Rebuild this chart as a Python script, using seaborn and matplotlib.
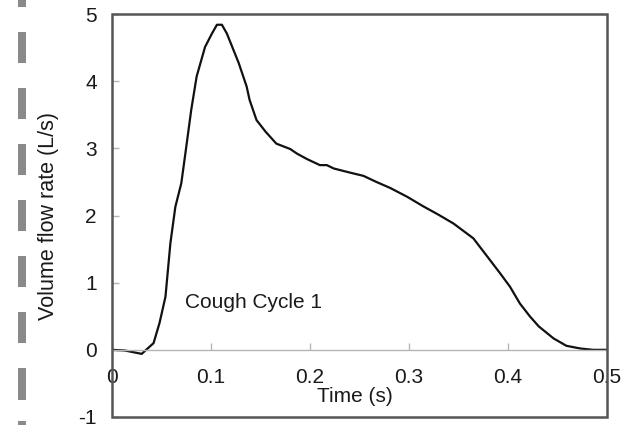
import matplotlib
matplotlib.use("Agg")
import matplotlib.pyplot as plt
from matplotlib.patches import Rectangle
import seaborn as sns
import pandas as pd

# ---- data ----
time_s = [0, 0.013, 0.030, 0.042, 0.048, 0.054, 0.059, 0.064, 0.070, 0.075,
          0.080, 0.0855, 0.094, 0.101, 0.106, 0.111, 0.116, 0.128, 0.136, 0.139,
          0.146, 0.155, 0.166, 0.180, 0.187, 0.197, 0.210, 0.217, 0.224, 0.240,
          0.254, 0.267, 0.281, 0.298, 0.314, 0.330, 0.345, 0.365, 0.378, 0.392,
          0.402, 0.412, 0.422, 0.431, 0.446, 0.459, 0.473, 0.486, 0.500]
flow_Ls = [0, -0.01, -0.06, 0.10, 0.40, 0.79, 1.59, 2.13, 2.48, 3.02,
           3.57, 4.07, 4.51, 4.71, 4.84, 4.84, 4.71, 4.27, 3.92, 3.72,
           3.42, 3.25, 3.07, 2.99, 2.92, 2.84, 2.75, 2.75, 2.70, 2.64,
           2.59, 2.50, 2.41, 2.28, 2.14, 2.01, 1.88, 1.66, 1.41, 1.14,
           0.94, 0.69, 0.50, 0.35, 0.17, 0.06, 0.02, 0.0, 0.0]
x_ticks = [0, 0.1, 0.2, 0.3, 0.4, 0.5]
x_tick_labels = ["0", "0.1", "0.2", "0.3", "0.4", "0.5"]
y_ticks = [-1, 0, 1, 2, 3, 4, 5]
y_tick_labels = ["-1", "0", "1", "2", "3", "4", "5"]
annotation = "Cough Cycle 1"
x_label = "Time (s)"
y_label = "Volume flow rate (L/s)"

df = pd.DataFrame({"t": time_s, "q": flow_Ls})

sns.set_theme(style="white")
plt.rcParams["font.family"] = ["Liberation Sans", "DejaVu Sans"]

W, H = 626, 425
fig = plt.figure(figsize=(W / 100, H / 100), dpi=100)
ax = fig.add_axes([112 / W, 1 - 417 / H, (607 - 112) / W, (417 - 14) / H])

sns.lineplot(data=df, x="t", y="q", ax=ax, color="#111111", linewidth=1.6,
             sort=False, estimator=None)

ax.set_xlim(0, 0.5)
ax.set_ylim(-1, 5)

for side in ["top", "left", "right"]:
    ax.spines[side].set_visible(False)
ax.spines["bottom"].set_position(("data", 0))
ax.spines["bottom"].set_color("#b5b5b5")
ax.spines["bottom"].set_linewidth(1.0)

ax.add_patch(Rectangle((0, 0), 1, 1, transform=ax.transAxes, fill=False,
                       edgecolor="#555555", linewidth=1.8, clip_on=False, zorder=5))

ax.set_xticks(x_ticks)
ax.set_xticklabels(x_tick_labels)
ax.set_yticks(y_ticks)
ax.set_yticklabels(y_tick_labels)
ax.tick_params(axis="x", direction="in", length=5, width=1, color="#b5b5b5",
               labelsize=15, labelcolor="#1a1a1a", pad=13, bottom=True)
ax.tick_params(axis="y", direction="in", length=5, width=1, color="#b5b5b5",
               labelsize=15, labelcolor="#1a1a1a", pad=11, left=True)

ax.set_xlabel(x_label, fontsize=15, color="#1a1a1a", labelpad=0)
ax.xaxis.label.set_x(0.491)
ax.set_ylabel(y_label, fontsize=15.5, color="#1a1a1a", labelpad=14)

ax.text(0.0737, 0.71, annotation, fontsize=15, color="#1a1a1a",
        ha="left", va="center")

# grey dashed strip along the left edge (scan artifact)
dash_spans = [(0, 7), (32, 63), (88, 119), (144, 175), (200, 231),
              (256, 287), (312, 343), (368, 400), (421, 425)]
for y0, y1 in dash_spans:
    fig.add_artist(Rectangle((18 / W, 1 - y1 / H), 8 / W, (y1 - y0) / H,
                             transform=fig.transFigure, color="#8a8a8a",
                             linewidth=0))

fig.savefig("out.png", dpi=100)
